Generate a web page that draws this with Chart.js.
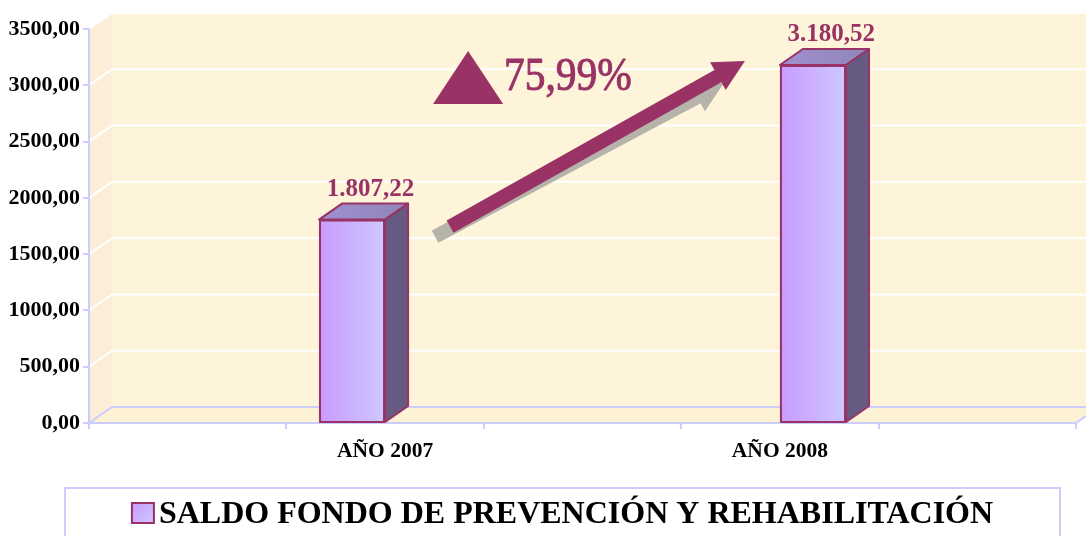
<!DOCTYPE html>
<html lang="es">
<head>
<meta charset="utf-8">
<title>Saldo Fondo de Prevención y Rehabilitación</title>
<script src="https://cdn.jsdelivr.net/npm/chart.js@4.4.1/dist/chart.umd.min.js"></script>
<style>
  html, body { margin: 0; padding: 0; background: #fff; }
  #wrap { width: 1086px; height: 536px; }
</style>
</head>
<body>
<div id="wrap"><canvas id="saldoChart" width="1086" height="536"></canvas></div>
<script>
// Datos
const years = ['AÑO 2007', 'AÑO 2008'];
const saldo = [1807.22, 3180.52];
const seriesName = 'SALDO FONDO DE PREVENCIÓN Y REHABILITACIÓN';
const yTicks = [0, 500, 1000, 1500, 2000, 2500, 3000, 3500];

const SERIF = '"Liberation Serif", "Times New Roman", serif';
const DX = 23, DY = -16;            // profundidad del efecto 3D
const WINE = '#993366';
const LAVENDER = '#ccccff';
const WALL = '#fdf4da';
const SIDE_WALL = '#fcedd8';
const FLOOR = '#fdf2d6';

// cinco ranuras: cada año ocupa la segunda y cuarta
const slots = ['', years[0], '', years[1], ''];
const datasets = years.map((y, i) => ({
    label: seriesName,
    data: slots.map((s, k) => (k === 2 * i + 1 ? saldo[i] : null)),
    backgroundColor: '#cbb4ff',
    borderColor: WINE,
    borderWidth: 2,
    categoryPercentage: 0.67,
    barPercentage: 1
}));

function fmtAxis(v) {
    return v.toFixed(2).replace('.', ',');
}

function fmtValue(v) {
    const [ent, dec] = v.toFixed(2).split('.');
    return ent.replace(/\B(?=(\d{3})+(?!\d))/g, '.') + ',' + dec;
}

function poly(ctx, pts) {
    ctx.beginPath();
    ctx.moveTo(pts[0][0], pts[0][1]);
    for (let i = 1; i < pts.length; i++) ctx.lineTo(pts[i][0], pts[i][1]);
    ctx.closePath();
}

function drawArrow(ctx, x0, y0, x1, y1, shaft, headLen, headW, color) {
    const len = Math.hypot(x1 - x0, y1 - y0);
    ctx.save();
    ctx.translate(x0, y0);
    ctx.rotate(Math.atan2(y1 - y0, x1 - x0));
    poly(ctx, [
        [0, -shaft / 2], [len - headLen, -shaft / 2], [len - headLen, -headW / 2],
        [len, 0], [len - headLen, headW / 2], [len - headLen, shaft / 2], [0, shaft / 2]
    ]);
    ctx.fillStyle = color;
    ctx.fill();
    ctx.restore();
}

const scene3d = {
    id: 'scene3d',
    beforeDraw(chart) {
        const { ctx, chartArea: a, scales: { y } } = chart;
        const W = chart.width;
        ctx.save();
        // pared del fondo
        ctx.fillStyle = WALL;
        ctx.fillRect(a.left + DX, a.top + DY, W - a.left - DX, a.bottom - a.top);
        // pared lateral
        ctx.fillStyle = SIDE_WALL;
        poly(ctx, [[a.left, a.top], [a.left + DX, a.top + DY], [a.left + DX, a.bottom + DY], [a.left, a.bottom]]);
        ctx.fill();
        // piso
        const rightY = a.bottom + DY * (W - a.right) / DX;
        ctx.fillStyle = FLOOR;
        poly(ctx, [[a.left, a.bottom], [a.left + DX, a.bottom + DY], [W, a.bottom + DY], [W, rightY], [a.right, a.bottom]]);
        ctx.fill();

        // líneas de división en las paredes
        ctx.lineWidth = 2;
        ctx.strokeStyle = '#ffffff';
        yTicks.forEach(v => {
            if (v === 0) return;
            const py = y.getPixelForValue(v);
            ctx.beginPath();
            ctx.moveTo(a.left, py);
            ctx.lineTo(a.left + DX, py + DY);
            ctx.lineTo(W, py + DY);
            ctx.stroke();
        });

        // bordes del piso
        ctx.strokeStyle = LAVENDER;
        ctx.beginPath();
        ctx.moveTo(a.left, a.bottom);
        ctx.lineTo(a.left + DX, a.bottom + DY);
        ctx.lineTo(W, a.bottom + DY);
        ctx.moveTo(a.right, a.bottom);
        ctx.lineTo(W, rightY);
        ctx.stroke();
        ctx.restore();
    },
    afterDatasetsDraw(chart) {
        const { ctx } = chart;
        const bars = [];
        chart.data.datasets.forEach((ds, di) => {
            chart.getDatasetMeta(di).data.forEach((bar, k) => {
                if (ds.data[k] !== null) bars.push({ bar, value: ds.data[k] });
            });
        });

        ctx.save();
        bars.forEach(({ bar, value }) => {
            const l = bar.x - bar.width / 2, r = bar.x + bar.width / 2;
            const t = bar.y, b = bar.base;

            // cara frontal con degradado
            const g = ctx.createLinearGradient(l, 0, r, 0);
            g.addColorStop(0, '#c89bff');
            g.addColorStop(1, '#cdc8ff');
            ctx.fillStyle = g;
            ctx.fillRect(l + 2, t + 2, r - l - 4, b - t - 2);

            ctx.lineWidth = 2;
            ctx.strokeStyle = WINE;
            ctx.lineJoin = 'round';
            // cara superior
            poly(ctx, [[l, t], [l + DX, t + DY], [r + DX, t + DY], [r, t]]);
            const gt = ctx.createLinearGradient(l, t, r + DX, t + DY);
            gt.addColorStop(0, '#a08fd0');
            gt.addColorStop(1, '#8f86b8');
            ctx.fillStyle = gt;
            ctx.fill();
            ctx.stroke();
            // cara lateral
            poly(ctx, [[r, t], [r + DX, t + DY], [r + DX, b + DY], [r, b]]);
            ctx.fillStyle = '#665a82';
            ctx.fill();
            ctx.stroke();
            // borde frontal
            ctx.strokeRect(l + 1, t + 1, r - l - 2, b - t - 1);

            // etiqueta de valor
            ctx.fillStyle = WINE;
            ctx.font = 'bold 25px ' + SERIF;
            ctx.textAlign = 'center';
            ctx.textBaseline = 'alphabetic';
            ctx.fillText(fmtValue(value), bar.x + DX * 0.8, t + DY - 8);
        });

        // flecha de crecimiento entre ambos años
        if (bars.length === 2) {
            const b1 = bars[0].bar, b2 = bars[1].bar;
            const tail = [b1.x + b1.width / 2 + 65, b1.y + 7];
            const tip = [b2.x - b2.width / 2 - 35, b2.y - 4];
            drawArrow(ctx, tail[0] - 15, tail[1] + 10, tip[0] - 21, tip[1] + 22, 14, 30, 32, '#b5b3aa');
            drawArrow(ctx, tail[0], tail[1], tip[0], tip[1], 14, 31, 32, WINE);

            // triángulo y porcentaje de variación
            poly(ctx, [[tail[0] - 17, tip[1] + 43], [tail[0] + 18, tip[1] - 10], [tail[0] + 53, tip[1] + 43]]);
            ctx.fillStyle = WINE;
            ctx.fill();

            const pct = (bars[1].value - bars[0].value) / bars[0].value * 100;
            const pctText = pct.toFixed(2).replace('.', ',') + '%';
            ctx.save();
            ctx.translate(tail[0] + 54, tip[1] + 29);
            ctx.scale(0.9, 1);
            ctx.font = '46px ' + SERIF;
            ctx.textAlign = 'left';
            ctx.fillText(pctText, 0, 0);
            ctx.strokeStyle = WINE;
            ctx.lineWidth = 1;
            ctx.strokeText(pctText, 0, 0);
            ctx.restore();
        }
        ctx.restore();
    },
    afterDraw(chart) {
        // leyenda enmarcada
        const { ctx } = chart;
        const frame = { left: 65, top: 488, right: 1060 };
        ctx.save();
        ctx.strokeStyle = LAVENDER;
        ctx.lineWidth = 2;
        ctx.strokeRect(frame.left, frame.top, frame.right - frame.left, 80);

        ctx.font = 'bold 32px ' + SERIF;
        const label = chart.data.datasets[0].label;
        const tw = ctx.measureText(label).width;
        const box = 22, gap = 5;
        const x0 = (frame.left + frame.right) / 2 - (box + gap + tw) / 2;
        const g = ctx.createLinearGradient(x0, 503, x0 + box, 523);
        g.addColorStop(0, '#c89bff');
        g.addColorStop(1, '#cdc8ff');
        ctx.fillStyle = g;
        ctx.fillRect(x0, 503, box, 20);
        ctx.strokeStyle = WINE;
        ctx.strokeRect(x0, 503, box, 20);

        ctx.fillStyle = '#000';
        ctx.textBaseline = 'alphabetic';
        ctx.fillText(label, x0 + box + gap, 523);
        ctx.restore();
    }
};

new Chart(document.getElementById('saldoChart'), {
    type: 'bar',
    data: { labels: slots, datasets },
    options: {
        responsive: false,
        animation: false,
        layout: { padding: { top: 29, right: 10, left: 0, bottom: 0 } },
        plugins: {
            legend: { display: false },
            tooltip: { enabled: false }
        },
        scales: {
            x: {
                ticks: {
                    color: '#000',
                    font: { family: SERIF, size: 21.5, weight: 'bold' },
                    padding: 10,
                    autoSkip: false,
                    maxRotation: 0
                },
                grid: { offset: true, drawOnChartArea: false, color: LAVENDER, lineWidth: 2, tickLength: 6 },
                border: { color: LAVENDER, width: 2 },
                afterFit: s => { s.height = 113; }
            },
            y: {
                min: 0,
                max: 3500,
                afterBuildTicks: s => { s.ticks = yTicks.map(v => ({ value: v })); },
                ticks: {
                    color: '#000',
                    font: { family: SERIF, size: 22, weight: 'bold' },
                    padding: 3,
                    callback: v => fmtAxis(v)
                },
                grid: { drawOnChartArea: false, color: LAVENDER, lineWidth: 2, tickLength: 6 },
                border: { color: LAVENDER, width: 2 },
                afterFit: s => { s.width = 89; }
            }
        }
    },
    plugins: [scene3d]
});
</script>
</body>
</html>
